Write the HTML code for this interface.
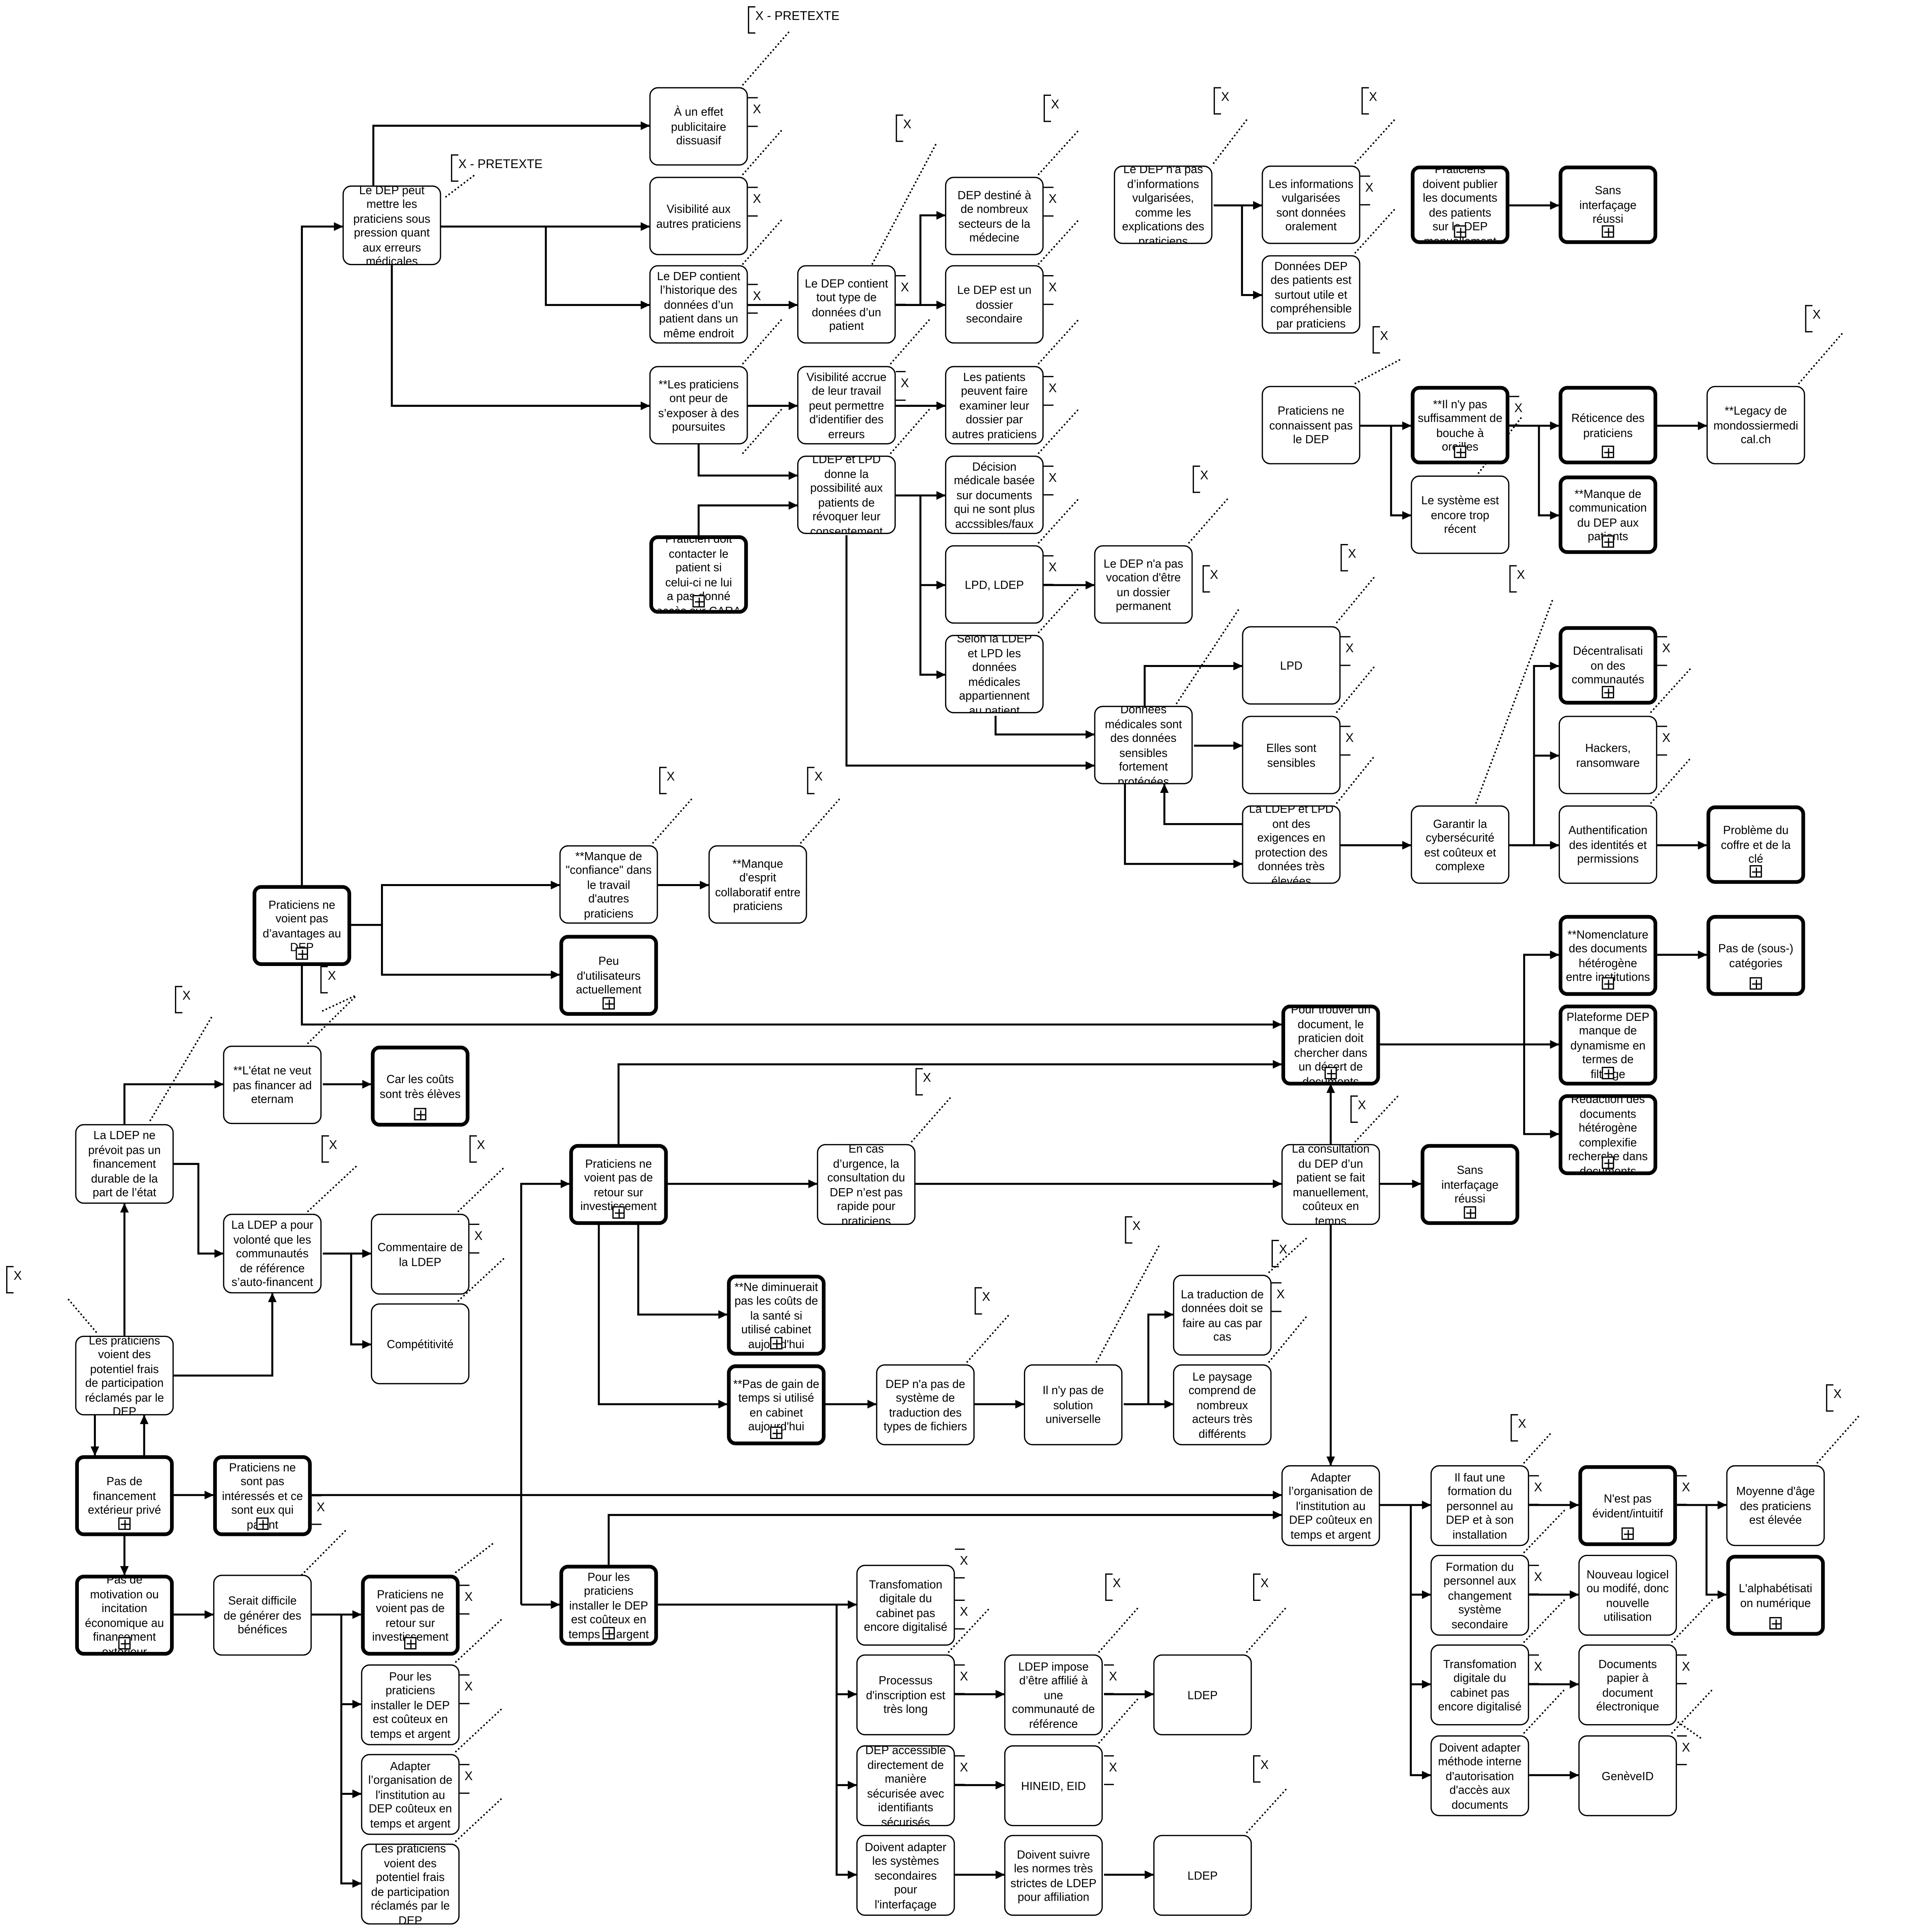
<!DOCTYPE html>
<html><head><meta charset="utf-8">
<style>
html,body{margin:0;padding:0;background:#fff;width:100%;height:100%;overflow:hidden;}
#root{position:absolute;left:0;top:0;width:100vw;height:100vh;}
#w{position:relative;width:1568px;height:1552px;font-family:"Liberation Sans",Arial,sans-serif;background:#fff;}
#w svg{position:absolute;left:0;top:0;}
.n{position:absolute;width:80px;height:63px;box-sizing:border-box;border:1.6px solid #000;border-radius:7px;background:#fff;}
.n>div{position:absolute;left:0;top:0;right:0;bottom:0;display:flex;align-items:center;justify-content:center;text-align:center;font-size:9.4px;line-height:11.5px;overflow:hidden;border-radius:6px;}
.b{border-width:3.6px;}
.p{position:absolute;left:50%;bottom:2px;width:10px;height:10px;margin-left:-5px;border:1px solid #000;box-sizing:border-box;background:#fff;z-index:2;}
.p:before{content:"";position:absolute;left:4px;top:1px;width:1.4px;height:6.5px;background:#000;}
.p:after{content:"";position:absolute;left:1px;top:3.7px;width:6.5px;height:1.4px;background:#000;}
.xm{position:absolute;width:8px;height:22px;border-top:1.5px solid #000;border-bottom:1.5px solid #000;}
.xm span{position:absolute;left:4px;top:4px;font-size:10px;}
.br{position:absolute;width:5px;height:20px;border:1.5px solid #000;border-right:none;}
.br span{position:absolute;left:5px;top:2px;font-size:10px;white-space:nowrap;}
</style></head><body>
<svg id="root" viewBox="0 0 1568 1552" preserveAspectRatio="none" xmlns="http://www.w3.org/2000/svg">
<foreignObject x="0" y="0" width="1568" height="1552">
<div xmlns="http://www.w3.org/1999/xhtml" id="w">
<svg width="1568" height="1552" viewBox="0 0 1568 1552" xmlns="http://www.w3.org/2000/svg">
<defs><marker id="a" markerWidth="8" markerHeight="8" refX="7" refY="4" orient="auto" markerUnits="userSpaceOnUse"><path d="M0,0.5 L7.5,4 L0,7.5 Z" fill="#000"/></marker></defs>
<g fill="none" stroke="#000" stroke-width="1.6" marker-end="url(#a)">
<path d="M245,711 V182 H278"/>
<path d="M303,149 V101 H527"/>
<path d="M358,182 H527"/>
<path d="M443,182 V245 H527"/>
<path d="M318,213 V326 H527"/>
<path d="M607,245 H647"/>
<path d="M607,326 H647"/>
<path d="M567,356 V382 H647"/>
<path d="M567,430 V406 H647"/>
<path d="M727,245 H747 V173 H767"/>
<path d="M727,245 H767"/>
<path d="M727,326 H767"/>
<path d="M727,398 H767"/>
<path d="M747,398 V470 H767"/>
<path d="M747,470 V542 H767"/>
<path d="M847,470 H888"/>
<path d="M808,575 V590 H888"/>
<path d="M687,430 V615 H888"/>
<path d="M929,567 V535 H1008"/>
<path d="M969,599 H1008"/>
<path d="M1008,662 H945 V630"/>
<path d="M913,630 V694 H1008"/>
<path d="M1088,679 H1145"/>
<path d="M1225,679 H1245 V535 H1265"/>
<path d="M1245,607 H1265"/>
<path d="M1225,679 H1265"/>
<path d="M1345,679 H1385"/>
<path d="M985,165 H1024"/>
<path d="M1008,165 V237 H1024"/>
<path d="M1225,165 H1265"/>
<path d="M1104,342 H1145"/>
<path d="M1129,342 V414 H1145"/>
<path d="M1225,342 H1265"/>
<path d="M1249,342 V414 H1265"/>
<path d="M1345,342 H1385"/>
<path d="M285,743 H310 V711 H454"/>
<path d="M310,743 V783 H454"/>
<path d="M534,711 H575"/>
<path d="M245,775 V823 H1040"/>
<path d="M101,903 V871 H181"/>
<path d="M262,871 H301"/>
<path d="M141,935 H161 V1007 H181"/>
<path d="M262,1007 H301"/>
<path d="M285,1007 V1080 H301"/>
<path d="M101,1073 V967"/>
<path d="M141,1105 H221 V1039"/>
<path d="M77,1137 V1169"/>
<path d="M117,1169 V1137"/>
<path d="M141,1201 H173"/>
<path d="M101,1233 V1265"/>
<path d="M253,1201 H1040"/>
<path d="M141,1297 H173"/>
<path d="M253,1297 H293"/>
<path d="M277,1297 V1369 H293"/>
<path d="M277,1369 V1441 H293"/>
<path d="M277,1441 V1513 H293"/>
<path d="M502,919 V855 H1040"/>
<path d="M1080,919 V871"/>
<path d="M542,951 H663"/>
<path d="M743,951 H1040"/>
<path d="M1120,951 H1153"/>
<path d="M518,983 V1056 H590"/>
<path d="M486,983 V1128 H590"/>
<path d="M670,1128 H711"/>
<path d="M791,1128 H831"/>
<path d="M912,1128 H932 V1056 H952"/>
<path d="M912,1128 H952"/>
<path d="M1120,839 H1237 V767 H1265"/>
<path d="M1237,839 H1265"/>
<path d="M1237,839 V911 H1265"/>
<path d="M1345,767 H1385"/>
<path d="M1080,983 V1177"/>
<path d="M494,1257 V1217 H1040"/>
<path d="M423,1289 V951 H462"/>
<path d="M423,1289 H454"/>
<path d="M534,1289 H695"/>
<path d="M679,1289 V1361 H695"/>
<path d="M679,1361 V1434 H695"/>
<path d="M679,1434 V1506 H695"/>
<path d="M775,1361 H815"/>
<path d="M896,1361 H936"/>
<path d="M775,1434 H815"/>
<path d="M775,1506 H815"/>
<path d="M896,1506 H936"/>
<path d="M1120,1209 H1161"/>
<path d="M1145,1209 V1281 H1161"/>
<path d="M1145,1281 V1353 H1161"/>
<path d="M1145,1353 V1426 H1161"/>
<path d="M1241,1209 H1281"/>
<path d="M1361,1209 H1401"/>
<path d="M1385,1209 V1281 H1401"/>
<path d="M1241,1281 H1281"/>
<path d="M1241,1353 H1281"/>
<path d="M1241,1426 H1281"/>
</g>
<g stroke="#000" stroke-width="1.4" stroke-dasharray="0.1 3" stroke-linecap="round" fill="none">
<path d="M603,68 L640,26"/>
<path d="M362,158 L386,140"/>
<path d="M603,140 L635,104"/>
<path d="M603,212 L635,176"/>
<path d="M603,292 L635,256"/>
<path d="M603,364 L635,328"/>
<path d="M708,212 L760,115"/>
<path d="M723,292 L755,256"/>
<path d="M723,364 L755,328"/>
<path d="M843,140 L876,104"/>
<path d="M843,212 L876,176"/>
<path d="M843,292 L876,256"/>
<path d="M843,364 L876,328"/>
<path d="M843,436 L876,400"/>
<path d="M843,508 L876,472"/>
<path d="M965,436 L997,400"/>
<path d="M955,565 L1005,490"/>
<path d="M985,131 L1012,96"/>
<path d="M1100,131 L1132,96"/>
<path d="M1100,203 L1132,168"/>
<path d="M1100,308 L1138,288"/>
<path d="M1200,380 L1235,335"/>
<path d="M1460,308 L1495,268"/>
<path d="M1085,500 L1115,464"/>
<path d="M1085,572 L1115,536"/>
<path d="M1085,645 L1115,608"/>
<path d="M1198,645 L1260,482"/>
<path d="M1340,572 L1373,536"/>
<path d="M1340,645 L1373,608"/>
<path d="M530,677 L563,640"/>
<path d="M650,677 L683,640"/>
<path d="M262,812 L288,800"/>
<path d="M122,900 L173,815"/>
<path d="M250,838 L289,800"/>
<path d="M250,973 L289,937"/>
<path d="M372,973 L410,937"/>
<path d="M372,1045 L410,1010"/>
<path d="M78,1070 L54,1042"/>
<path d="M740,917 L772,881"/>
<path d="M1100,917 L1135,880"/>
<path d="M890,1094 L941,1000"/>
<path d="M1030,1022 L1060,995"/>
<path d="M1030,1094 L1060,1058"/>
<path d="M785,1094 L820,1055"/>
<path d="M245,1265 L282,1228"/>
<path d="M370,1335 L408,1300"/>
<path d="M370,1407 L408,1372"/>
<path d="M370,1479 L408,1444"/>
<path d="M370,1263 L400,1240"/>
<path d="M770,1327 L803,1292"/>
<path d="M892,1327 L925,1290"/>
<path d="M892,1400 L925,1363"/>
<path d="M1012,1327 L1045,1290"/>
<path d="M1012,1472 L1045,1436"/>
<path d="M1237,1175 L1258,1152"/>
<path d="M1237,1247 L1270,1213"/>
<path d="M1237,1319 L1270,1285"/>
<path d="M1237,1392 L1270,1357"/>
<path d="M1357,1319 L1390,1285"/>
<path d="M1357,1392 L1390,1357"/>
<path d="M1357,1380 L1380,1396"/>
<path d="M1475,1175 L1510,1136"/>
</g>
</svg>

<div class="br" style="left:607px;top:5px"><span>X - PRETEXTE</span></div>
<div class="br" style="left:366px;top:124px"><span>X - PRETEXTE</span></div>
<div class="br" style="left:727px;top:92px"><span>X</span></div>
<div class="br" style="left:847px;top:76px"><span>X</span></div>
<div class="br" style="left:985px;top:70px"><span>X</span></div>
<div class="br" style="left:1105px;top:70px"><span>X</span></div>
<div class="br" style="left:1114px;top:262px"><span>X</span></div>
<div class="br" style="left:1465px;top:245px"><span>X</span></div>
<div class="br" style="left:968px;top:374px"><span>X</span></div>
<div class="br" style="left:976px;top:454px"><span>X</span></div>
<div class="br" style="left:1088px;top:437px"><span>X</span></div>
<div class="br" style="left:1225px;top:454px"><span>X</span></div>
<div class="br" style="left:535px;top:616px"><span>X</span></div>
<div class="br" style="left:655px;top:616px"><span>X</span></div>
<div class="br" style="left:260px;top:776px"><span>X</span></div>
<div class="br" style="left:142px;top:792px"><span>X</span></div>
<div class="br" style="left:261px;top:912px"><span>X</span></div>
<div class="br" style="left:381px;top:912px"><span>X</span></div>
<div class="br" style="left:5px;top:1017px"><span>X</span></div>
<div class="br" style="left:743px;top:858px"><span>X</span></div>
<div class="br" style="left:1096px;top:880px"><span>X</span></div>
<div class="br" style="left:913px;top:977px"><span>X</span></div>
<div class="br" style="left:1032px;top:996px"><span>X</span></div>
<div class="br" style="left:791px;top:1034px"><span>X</span></div>
<div class="br" style="left:1226px;top:1136px"><span>X</span></div>
<div class="br" style="left:1482px;top:1112px"><span>X</span></div>
<div class="br" style="left:897px;top:1264px"><span>X</span></div>
<div class="br" style="left:1017px;top:1264px"><span>X</span></div>
<div class="br" style="left:1017px;top:1410px"><span>X</span></div>

<div class="xm" style="left:607px;top:78px"><span>X</span></div>
<div class="xm" style="left:607px;top:150px"><span>X</span></div>
<div class="xm" style="left:607px;top:228px"><span>X</span></div>
<div class="xm" style="left:727px;top:221px"><span>X</span></div>
<div class="xm" style="left:727px;top:298px"><span>X</span></div>
<div class="xm" style="left:847px;top:150px"><span>X</span></div>
<div class="xm" style="left:847px;top:221px"><span>X</span></div>
<div class="xm" style="left:847px;top:302px"><span>X</span></div>
<div class="xm" style="left:847px;top:374px"><span>X</span></div>
<div class="xm" style="left:847px;top:446px"><span>X</span></div>
<div class="xm" style="left:1104px;top:141px"><span>X</span></div>
<div class="xm" style="left:1225px;top:318px"><span>X</span></div>
<div class="xm" style="left:1088px;top:511px"><span>X</span></div>
<div class="xm" style="left:1088px;top:583px"><span>X</span></div>
<div class="xm" style="left:1345px;top:511px"><span>X</span></div>
<div class="xm" style="left:1345px;top:583px"><span>X</span></div>
<div class="xm" style="left:381px;top:983px"><span>X</span></div>
<div class="xm" style="left:253px;top:1201px"><span>X</span></div>
<div class="xm" style="left:1032px;top:1030px"><span>X</span></div>
<div class="xm" style="left:373px;top:1273px"><span>X</span></div>
<div class="xm" style="left:373px;top:1345px"><span>X</span></div>
<div class="xm" style="left:373px;top:1417px"><span>X</span></div>
<div class="xm" style="left:775px;top:1337px"><span>X</span></div>
<div class="xm" style="left:775px;top:1410px"><span>X</span></div>
<div class="xm" style="left:896px;top:1337px"><span>X</span></div>
<div class="xm" style="left:896px;top:1410px"><span>X</span></div>
<div class="xm" style="left:775px;top:1244px"><span>X</span></div>
<div class="xm" style="left:775px;top:1285px"><span>X</span></div>
<div class="xm" style="left:1241px;top:1185px"><span>X</span></div>
<div class="xm" style="left:1241px;top:1257px"><span>X</span></div>
<div class="xm" style="left:1241px;top:1329px"><span>X</span></div>
<div class="xm" style="left:1361px;top:1185px"><span>X</span></div>
<div class="xm" style="left:1361px;top:1329px"><span>X</span></div>
<div class="xm" style="left:1361px;top:1394px"><span>X</span></div>

<div class="n" style="left:278px;top:149px;height:64px"><div>Le DEP peut<br/>mettre les<br/>praticiens sous<br/>pression quant<br/>aux erreurs<br/>médicales</div></div>
<div class="n" style="left:527px;top:70px"><div>À un effet<br/>publicitaire<br/>dissuasif</div></div>
<div class="n" style="left:527px;top:142px"><div>Visibilité aux<br/>autres praticiens</div></div>
<div class="n" style="left:527px;top:213px"><div>Le DEP contient<br/>l’historique des<br/>données d’un<br/>patient dans un<br/>même endroit</div></div>
<div class="n" style="left:527px;top:294px"><div>**Les praticiens<br/>ont peur de<br/>s’exposer à des<br/>poursuites</div></div>
<div class="n" style="left:647px;top:213px"><div>Le DEP contient<br/>tout type de<br/>données d’un<br/>patient</div></div>
<div class="n" style="left:647px;top:294px"><div>Visibilité accrue<br/>de leur travail<br/>peut permettre<br/>d'identifier des<br/>erreurs</div></div>
<div class="n" style="left:647px;top:366px"><div>LDEP et LPD<br/>donne la<br/>possibilité aux<br/>patients de<br/>révoquer leur<br/>consentement</div></div>
<div class="n b" style="left:527px;top:430px"><div>Praticien doit<br/>contacter le<br/>patient si<br/>celui-ci ne lui<br/>a pas donné<br/>accès sur CARA</div><span class="p"></span></div>
<div class="n" style="left:767px;top:142px"><div>DEP destiné à<br/>de nombreux<br/>secteurs de la<br/>médecine</div></div>
<div class="n" style="left:767px;top:213px"><div>Le DEP est un<br/>dossier<br/>secondaire</div></div>
<div class="n" style="left:767px;top:294px"><div>Les patients<br/>peuvent faire<br/>examiner leur<br/>dossier par<br/>autres praticiens</div></div>
<div class="n" style="left:767px;top:366px"><div>Décision<br/>médicale basée<br/>sur documents<br/>qui ne sont plus<br/>accssibles/faux</div></div>
<div class="n" style="left:767px;top:438px"><div>LPD, LDEP</div></div>
<div class="n" style="left:767px;top:510px"><div>Selon la LDEP<br/>et LPD les<br/>données<br/>médicales<br/>appartiennent<br/>au patient</div></div>
<div class="n" style="left:888px;top:438px"><div>Le DEP n'a pas<br/>vocation d'être<br/>un dossier<br/>permanent</div></div>
<div class="n" style="left:888px;top:567px"><div>Données<br/>médicales sont<br/>des données<br/>sensibles<br/>fortement<br/>protégées</div></div>
<div class="n" style="left:1008px;top:503px"><div>LPD</div></div>
<div class="n" style="left:1008px;top:575px"><div>Elles sont<br/>sensibles</div></div>
<div class="n" style="left:1008px;top:647px"><div>La LDEP et LPD<br/>ont des<br/>exigences en<br/>protection des<br/>données très<br/>élevées</div></div>
<div class="n" style="left:1145px;top:647px"><div>Garantir la<br/>cybersécurité<br/>est coûteux et<br/>complexe</div></div>
<div class="n b" style="left:1265px;top:503px"><div>Décentralisati<br/>on des<br/>communautés</div><span class="p"></span></div>
<div class="n" style="left:1265px;top:575px"><div>Hackers,<br/>ransomware</div></div>
<div class="n" style="left:1265px;top:647px"><div>Authentification<br/>des identités et<br/>permissions</div></div>
<div class="n b" style="left:1385px;top:647px"><div>Problème du<br/>coffre et de la<br/>clé</div><span class="p"></span></div>
<div class="n" style="left:904px;top:133px"><div>Le DEP n'a pas<br/>d’informations<br/>vulgarisées,<br/>comme les<br/>explications des<br/>praticiens</div></div>
<div class="n" style="left:1024px;top:133px"><div>Les informations<br/>vulgarisées<br/>sont données<br/>oralement</div></div>
<div class="n" style="left:1024px;top:205px"><div>Données DEP<br/>des patients est<br/>surtout utile et<br/>compréhensible<br/>par praticiens</div></div>
<div class="n b" style="left:1145px;top:133px"><div>Praticiens<br/>doivent publier<br/>les documents<br/>des patients<br/>sur le DEP<br/>manuellement</div><span class="p"></span></div>
<div class="n b" style="left:1265px;top:133px"><div>Sans<br/>interfaçage<br/>réussi</div><span class="p"></span></div>
<div class="n" style="left:1024px;top:310px"><div>Praticiens ne<br/>connaissent pas<br/>le DEP</div></div>
<div class="n b" style="left:1145px;top:310px"><div>**Il n'y pas<br/>suffisamment de<br/>bouche à<br/>oreilles</div><span class="p"></span></div>
<div class="n" style="left:1145px;top:382px"><div>Le système est<br/>encore trop<br/>récent</div></div>
<div class="n b" style="left:1265px;top:310px"><div>Réticence des<br/>praticiens</div><span class="p"></span></div>
<div class="n b" style="left:1265px;top:382px"><div>**Manque de<br/>communication<br/>du DEP aux<br/>patients</div><span class="p"></span></div>
<div class="n" style="left:1385px;top:310px"><div>**Legacy de<br/>mondossiermedi<br/>cal.ch</div></div>
<div class="n b" style="left:205px;top:711px;height:65px"><div>Praticiens ne<br/>voient pas<br/>d’avantages au<br/>DEP</div><span class="p"></span></div>
<div class="n" style="left:454px;top:679px"><div>**Manque de<br/>"confiance" dans<br/>le travail<br/>d'autres<br/>praticiens</div></div>
<div class="n b" style="left:454px;top:751px;height:65px"><div>Peu<br/>d'utilisateurs<br/>actuellement</div><span class="p"></span></div>
<div class="n" style="left:575px;top:679px"><div>**Manque<br/>d'esprit<br/>collaboratif entre<br/>praticiens</div></div>
<div class="n b" style="left:1040px;top:807px;height:65px"><div>Pour trouver un<br/>document, le<br/>praticien doit<br/>chercher dans<br/>un désert de<br/>documents</div><span class="p"></span></div>
<div class="n b" style="left:1265px;top:735px;height:65px"><div>**Nomenclature<br/>des documents<br/>hétérogène<br/>entre institutions</div><span class="p"></span></div>
<div class="n b" style="left:1385px;top:735px;height:65px"><div>Pas de (sous-)<br/>catégories</div><span class="p"></span></div>
<div class="n b" style="left:1265px;top:807px;height:65px"><div>Plateforme DEP<br/>manque de<br/>dynamisme en<br/>termes de<br/>filtrage</div><span class="p"></span></div>
<div class="n b" style="left:1265px;top:879px;height:65px"><div>Rédaction des<br/>documents<br/>hétérogène<br/>complexifie<br/>recherche dans<br/>documents</div><span class="p"></span></div>
<div class="n" style="left:61px;top:903px;height:64px"><div>La LDEP ne<br/>prévoit pas un<br/>financement<br/>durable de la<br/>part de l’état</div></div>
<div class="n" style="left:181px;top:840px"><div>**L'état ne veut<br/>pas financer ad<br/>eternam</div></div>
<div class="n b" style="left:301px;top:840px;height:65px"><div>Car les coûts<br/>sont très élèves</div><span class="p"></span></div>
<div class="n" style="left:181px;top:975px;height:64px"><div>La LDEP a pour<br/>volonté que les<br/>communautés<br/>de référence<br/>s’auto-financent</div></div>
<div class="n" style="left:301px;top:975px;height:65px"><div>Commentaire de<br/>la LDEP</div></div>
<div class="n" style="left:301px;top:1047px;height:65px"><div>Compétitivité</div></div>
<div class="n" style="left:61px;top:1073px;height:64px"><div>Les praticiens<br/>voient des<br/>potentiel frais<br/>de participation<br/>réclamés par le<br/>DEP</div></div>
<div class="n b" style="left:61px;top:1169px;height:65px"><div>Pas de<br/>financement<br/>extérieur privé</div><span class="p"></span></div>
<div class="n b" style="left:173px;top:1169px;height:65px"><div>Praticiens ne<br/>sont pas<br/>intéressés et ce<br/>sont eux qui<br/>paient</div><span class="p"></span></div>
<div class="n b" style="left:61px;top:1265px;height:65px"><div>Pas de<br/>motivation ou<br/>incitation<br/>économique au<br/>financement<br/>extérieur</div><span class="p"></span></div>
<div class="n" style="left:173px;top:1265px;height:65px"><div>Serait difficile<br/>de générer des<br/>bénéfices</div></div>
<div class="n b" style="left:293px;top:1265px;height:65px"><div>Praticiens ne<br/>voient pas de<br/>retour sur<br/>investissement</div><span class="p"></span></div>
<div class="n" style="left:293px;top:1337px;height:65px"><div>Pour les<br/>praticiens<br/>installer le DEP<br/>est coûteux en<br/>temps et argent</div></div>
<div class="n" style="left:293px;top:1409px;height:65px"><div>Adapter<br/>l’organisation de<br/>l'institution au<br/>DEP coûteux en<br/>temps et argent</div></div>
<div class="n" style="left:293px;top:1481px;height:65px"><div>Les praticiens<br/>voient des<br/>potentiel frais<br/>de participation<br/>réclamés par le<br/>DEP</div></div>
<div class="n b" style="left:462px;top:919px;height:65px"><div>Praticiens ne<br/>voient pas de<br/>retour sur<br/>investissement</div><span class="p"></span></div>
<div class="n" style="left:663px;top:919px;height:65px"><div>En cas<br/>d’urgence, la<br/>consultation du<br/>DEP n’est pas<br/>rapide pour<br/>praticiens</div></div>
<div class="n" style="left:1040px;top:919px;height:65px"><div>La consultation<br/>du DEP d’un<br/>patient se fait<br/>manuellement,<br/>coûteux en<br/>temps</div></div>
<div class="n b" style="left:1153px;top:919px;height:65px"><div>Sans<br/>interfaçage<br/>réussi</div><span class="p"></span></div>
<div class="n b" style="left:590px;top:1024px;height:65px"><div>**Ne diminuerait<br/>pas les coûts de<br/>la santé si<br/>utilisé cabinet<br/>aujourd'hui</div><span class="p"></span></div>
<div class="n b" style="left:590px;top:1096px;height:65px"><div>**Pas de gain de<br/>temps si utilisé<br/>en cabinet<br/>aujourd'hui</div><span class="p"></span></div>
<div class="n" style="left:711px;top:1096px;height:65px"><div>DEP n'a pas de<br/>système de<br/>traduction des<br/>types de fichiers</div></div>
<div class="n" style="left:831px;top:1096px;height:65px"><div>Il n'y pas de<br/>solution<br/>universelle</div></div>
<div class="n" style="left:952px;top:1024px;height:65px"><div>La traduction de<br/>données doit se<br/>faire au cas par<br/>cas</div></div>
<div class="n" style="left:952px;top:1096px;height:65px"><div>Le paysage<br/>comprend de<br/>nombreux<br/>acteurs très<br/>différents</div></div>
<div class="n" style="left:1040px;top:1177px;height:65px"><div>Adapter<br/>l’organisation de<br/>l'institution au<br/>DEP coûteux en<br/>temps et argent</div></div>
<div class="n b" style="left:454px;top:1257px;height:65px"><div>Pour les<br/>praticiens<br/>installer le DEP<br/>est coûteux en<br/>temps et argent</div><span class="p"></span></div>
<div class="n" style="left:695px;top:1257px;height:65px"><div>Transfomation<br/>digitale du<br/>cabinet pas<br/>encore digitalisé</div></div>
<div class="n" style="left:695px;top:1329px;height:65px"><div>Processus<br/>d'inscription est<br/>très long</div></div>
<div class="n" style="left:695px;top:1402px;height:65px"><div>DEP accessible<br/>directement de<br/>manière<br/>sécurisée avec<br/>identifiants<br/>sécurisés</div></div>
<div class="n" style="left:695px;top:1474px;height:65px"><div>Doivent adapter<br/>les systèmes<br/>secondaires<br/>pour<br/>l'interfaçage</div></div>
<div class="n" style="left:815px;top:1329px;height:65px"><div>LDEP impose<br/>d’être affilié à<br/>une<br/>communauté de<br/>référence</div></div>
<div class="n" style="left:815px;top:1402px;height:65px"><div>HINEID, EID</div></div>
<div class="n" style="left:815px;top:1474px;height:65px"><div>Doivent suivre<br/>les normes très<br/>strictes de LDEP<br/>pour affiliation</div></div>
<div class="n" style="left:936px;top:1329px;height:65px"><div>LDEP</div></div>
<div class="n" style="left:936px;top:1474px;height:65px"><div>LDEP</div></div>
<div class="n" style="left:1161px;top:1177px;height:65px"><div>Il faut une<br/>formation du<br/>personnel au<br/>DEP et à son<br/>installation</div></div>
<div class="n" style="left:1161px;top:1249px;height:65px"><div>Formation du<br/>personnel aux<br/>changement<br/>système<br/>secondaire</div></div>
<div class="n" style="left:1161px;top:1321px;height:65px"><div>Transfomation<br/>digitale du<br/>cabinet pas<br/>encore digitalisé</div></div>
<div class="n" style="left:1161px;top:1394px;height:65px"><div>Doivent adapter<br/>méthode interne<br/>d'autorisation<br/>d'accès aux<br/>documents</div></div>
<div class="n b" style="left:1281px;top:1177px;height:65px"><div>N'est pas<br/>évident/intuitif</div><span class="p"></span></div>
<div class="n" style="left:1281px;top:1249px;height:65px"><div>Nouveau logicel<br/>ou modifé, donc<br/>nouvelle<br/>utilisation</div></div>
<div class="n" style="left:1281px;top:1321px;height:65px"><div>Documents<br/>papier à<br/>document<br/>électronique</div></div>
<div class="n" style="left:1281px;top:1394px;height:65px"><div>GenèveID</div></div>
<div class="n" style="left:1401px;top:1177px;height:65px"><div>Moyenne d'âge<br/>des praticiens<br/>est élevée</div></div>
<div class="n b" style="left:1401px;top:1249px;height:65px"><div>L'alphabétisati<br/>on numérique</div><span class="p"></span></div>
</div>
</foreignObject>
</svg>
</body></html>
